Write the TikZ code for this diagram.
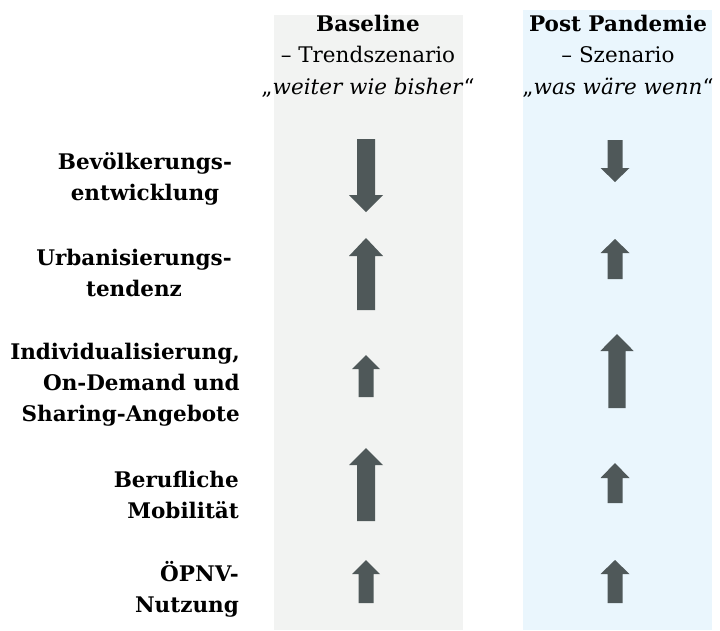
\documentclass[tikz,border=0pt]{standalone}
\usepackage{fontspec}
\setmainfont{DejaVu Serif}
\usetikzlibrary{positioning}
\definecolor{basegray}{HTML}{F2F3F2}
\definecolor{postblue}{HTML}{EAF6FD}
\definecolor{arrowgray}{HTML}{4F5859}
% Trend arrow: x, tail y, head-base y, tip y, shaft half width, head half width.
\newcommand{\trendarrow}[6]{%
  \fill[arrowgray] (#1-#5,#2) -- (#1+#5,#2) -- (#1+#5,#3) -- (#1+#6,#3)
    -- (#1,#4) -- (#1-#6,#3) -- (#1-#5,#3) -- cycle;}

\begin{document}
\begin{tikzpicture}[x=1pt,y=-1pt,
  rowlabel/.style={font=\bfseries\fontsize{21.5}{31}\selectfont,inner sep=0pt},
  colhead/.style={font=\fontsize{21.5}{31.5}\selectfont,inner sep=0pt,align=center}]
  \useasboundingbox (0,0) rectangle (720,630);

  % Scenario columns.
  \fill[basegray] (274,15) rectangle (463,630);
  \fill[postblue] (523,10) rectangle (712,630);

  % Column headers.
  \node[colhead,anchor=base] (baseline) at (368,94)
    {\textbf{Baseline}\\– Trendszenario\\„\textit{weiter wie bisher}“};
  \node[colhead,anchor=base] (postpand) at (618,94)
    {\textbf{Post Pandemie}\\– Szenario\\„\textit{was wäre wenn}“};

  % Row labels.
  \node[rowlabel,align=center,anchor=base] (bev) at (145,200)
    {Bevölkerungs-\\entwicklung};
  \node[rowlabel,align=center,anchor=base] (urb) at (134,296)
    {Urbanisierungs-\\tendenz};
  \node[rowlabel,align=right,anchor=base east] (indiv) at (240,421)
    {Individualisierung,\\On-Demand und\\Sharing-Angebote};
  \node[rowlabel,align=right,anchor=base east] (beruf) at (239,518)
    {Berufliche\\Mobilität};
  \node[rowlabel,align=right,anchor=base east] (oepnv) at (239,612)
    {ÖPNV-\\Nutzung};

  % Baseline arrows.
  \trendarrow{366}{139}{195}{212}{9}{17}
  \trendarrow{366}{310}{256}{238}{9}{17}
  \trendarrow{366}{397}{369}{355}{7.5}{14}
  \trendarrow{366}{521}{465}{448}{9}{17}
  \trendarrow{366}{603}{574}{560}{7.5}{14}

  % Post pandemic arrows.
  \trendarrow{615}{140}{168}{182}{7.5}{14.5}
  \trendarrow{615}{279}{253}{239}{7.5}{14.5}
  \trendarrow{617}{408}{351}{334}{8.7}{16.7}
  \trendarrow{615}{503}{478}{463}{7.5}{14.5}
  \trendarrow{615}{603}{574}{560}{7.5}{14.5}
\end{tikzpicture}
\end{document}
